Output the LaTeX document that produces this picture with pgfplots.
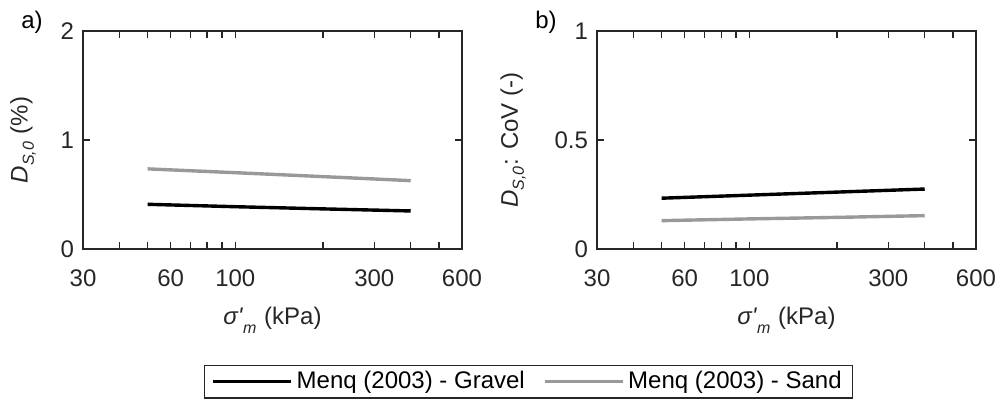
\documentclass[border=0pt]{standalone}
\usepackage{fontspec}
\setmainfont{Liberation Sans}
\usepackage{pgfplots}
\pgfplotsset{compat=1.18}
\definecolor{axc}{gray}{0.15}
\definecolor{sandc}{gray}{0.6}
\pgfplotsset{
  myax/.style={
    scale only axis, width=189.5pt, height=109pt,
    xmin=30, xmax=600,
    xtick={30,60,100,300,600}, xticklabels={30,60,100,300,600},
    minor xtick={40,50,70,80,90,200,400,500},
    tick align=inside,
    major tick length=3.5pt, minor tick length=3.5pt,
    axis line style={axc, line width=0.8pt},
    every tick/.style={axc, line width=0.6pt},
    tick label style={font=\fontsize{12}{14}\selectfont, text=axc},
    xticklabel style={yshift=-7pt},
    yticklabel style={xshift=-1pt},
    label style={font=\fontsize{12}{14}\selectfont, text=axc},
    /pgf/number format/assume math mode=true,
    xlabel style={at={(axis description cs:0.5,-0.326)}, anchor=center},
    xlabel={\textit{σ\textquotesingle}\raisebox{-0.45ex}{\textsubscript{\textit{m}}} (kPa)},
  }
}
\begin{document}
\begin{tikzpicture}
\path[use as bounding box] (0,0) rectangle (500pt,202.5pt);
\begin{axis}[xmode=log, myax, at={(41.5pt,78pt)}, anchor=south west,
  ymin=0, ymax=2, ytick={0,1,2},
  ylabel={\textit{D}\raisebox{-0.2ex}{\textsubscript{\textit{S,0}}} (\%)},
  ylabel style={at={(axis description cs:-0.158,0.5)}, anchor=center},
  legend columns=2,
  legend style={at={(axis description cs:1.1755,-0.532)}, anchor=north,
    draw=axc, line width=0.6pt, font=\fontsize{12}{14}\selectfont,
    inner xsep=3.5pt, inner ysep=1pt,
    /tikz/every even column/.append style={column sep=7pt}},
  legend image code/.code={\draw[#1] (0pt,0pt) -- (39pt,0pt);},
]
\addplot[black, line width=1.7pt] coordinates {(50,0.410) (100,0.388) (200,0.368) (400,0.349)};
\addlegendentry{Menq (2003) - Gravel}
\addplot[sandc, line width=1.7pt] coordinates {(50,0.735) (100,0.700) (200,0.664) (400,0.627)};
\addlegendentry{Menq (2003) - Sand}
\end{axis}
\begin{axis}[xmode=log, myax, at={(298.5pt,78pt)}, anchor=south west,
  ymin=0, ymax=1, ytick={0,0.5,1}, yticklabels={0,0.5,1},
  ylabel={\textit{D}\raisebox{-0.2ex}{\textsubscript{\textit{S,0}}}: CoV (-)},
  ylabel style={at={(axis description cs:-0.221,0.5)}, anchor=center},
]
\addplot[black, line width=1.7pt] coordinates {(50,0.233) (100,0.247) (200,0.261) (400,0.275)};
\addplot[sandc, line width=1.7pt] coordinates {(50,0.130) (100,0.138) (200,0.145) (400,0.153)};
\end{axis}
\node[font=\fontsize{12}{14}\selectfont, text=black] at (16pt,191.5pt) {a)};
\node[font=\fontsize{12}{14}\selectfont, text=black] at (273pt,191.5pt) {b)};
\end{tikzpicture}
\end{document}
